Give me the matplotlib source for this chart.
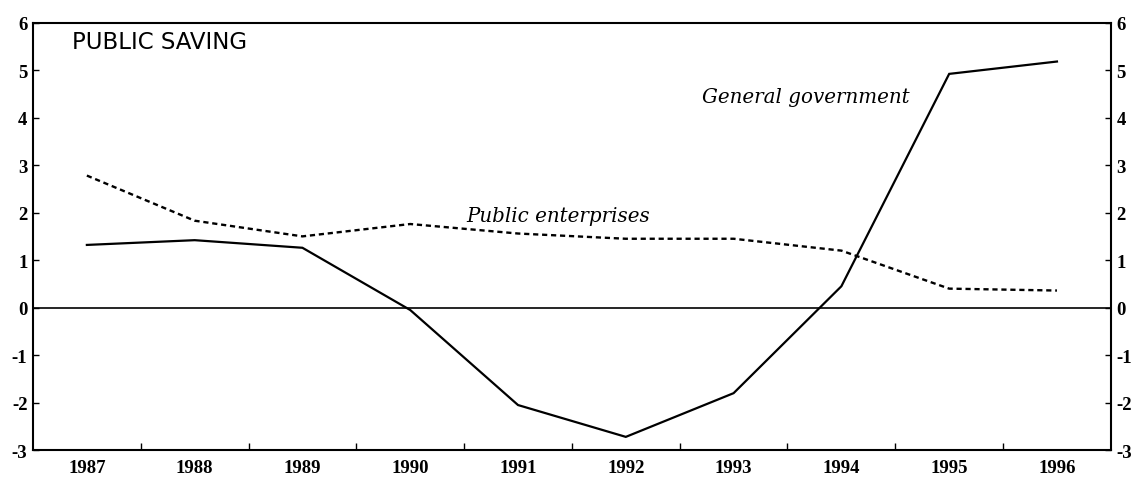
import matplotlib
matplotlib.use("Agg")
import matplotlib.pyplot as plt
from matplotlib.ticker import FixedLocator, NullFormatter

plt.rcParams['axes.unicode_minus'] = False

years = [1987, 1988, 1989, 1990, 1991, 1992, 1993, 1994, 1995, 1996]
general_government = [1.32, 1.42, 1.26, -0.05, -2.05, -2.72, -1.8, 0.45, 4.92, 5.18]
public_enterprises = [2.78, 1.83, 1.5, 1.76, 1.56, 1.45, 1.45, 1.2, 0.4, 0.36]
y_ticks = [6, 5, 4, 3, 2, 1, 0, -1, -2, -3]

title_text = "PUBLIC SAVING"
label_gg = "General government"
label_pe = "Public enterprises"

fig = plt.figure(figsize=(11.37, 4.81), dpi=100)
ax = fig.add_axes([0.029, 0.062, 0.948, 0.889])

ax.plot(years, general_government, color='black', lw=1.6, solid_joinstyle='miter')
ax.plot(years, public_enterprises, color='black', lw=1.7, linestyle=(0, (2.2, 1.6)))
ax.axhline(0, color='black', lw=1.2)

ax.set_xlim(1986.5, 1996.5)
ax.set_ylim(-3, 6)

for s in ax.spines.values():
    s.set_linewidth(1.5)

tick_font = dict(family='Liberation Serif', weight='bold', size=13.5)

ax.set_yticks(y_ticks)
ax.set_yticklabels([str(v) for v in y_ticks], fontdict=tick_font)
ax.yaxis.set_ticks_position('both')
ax.tick_params(axis='y', direction='in', length=4, width=1, pad=4,
               labelleft=True, labelright=True)

ax.set_xticks(years)
ax.set_xticklabels([str(y) for y in years], fontdict=tick_font)
ax.tick_params(axis='x', which='major', length=0, pad=6)
ax.xaxis.set_minor_locator(FixedLocator([y + 0.5 for y in years[:-1]]))
ax.xaxis.set_minor_formatter(NullFormatter())
ax.tick_params(axis='x', which='minor', direction='in', length=5, width=1)

ax.text(0.036, 0.955, title_text, transform=ax.transAxes, family='DejaVu Sans',
        fontsize=16.5, ha='left', va='center')
ax.text(1993.67, 4.45, label_gg, family='DejaVu Serif', style='italic',
        fontsize=14.3, ha='center', va='center')
ax.text(1991.37, 1.93, label_pe, family='DejaVu Serif', style='italic',
        fontsize=14.3, ha='center', va='center')

fig.savefig("out.png", dpi=100)
